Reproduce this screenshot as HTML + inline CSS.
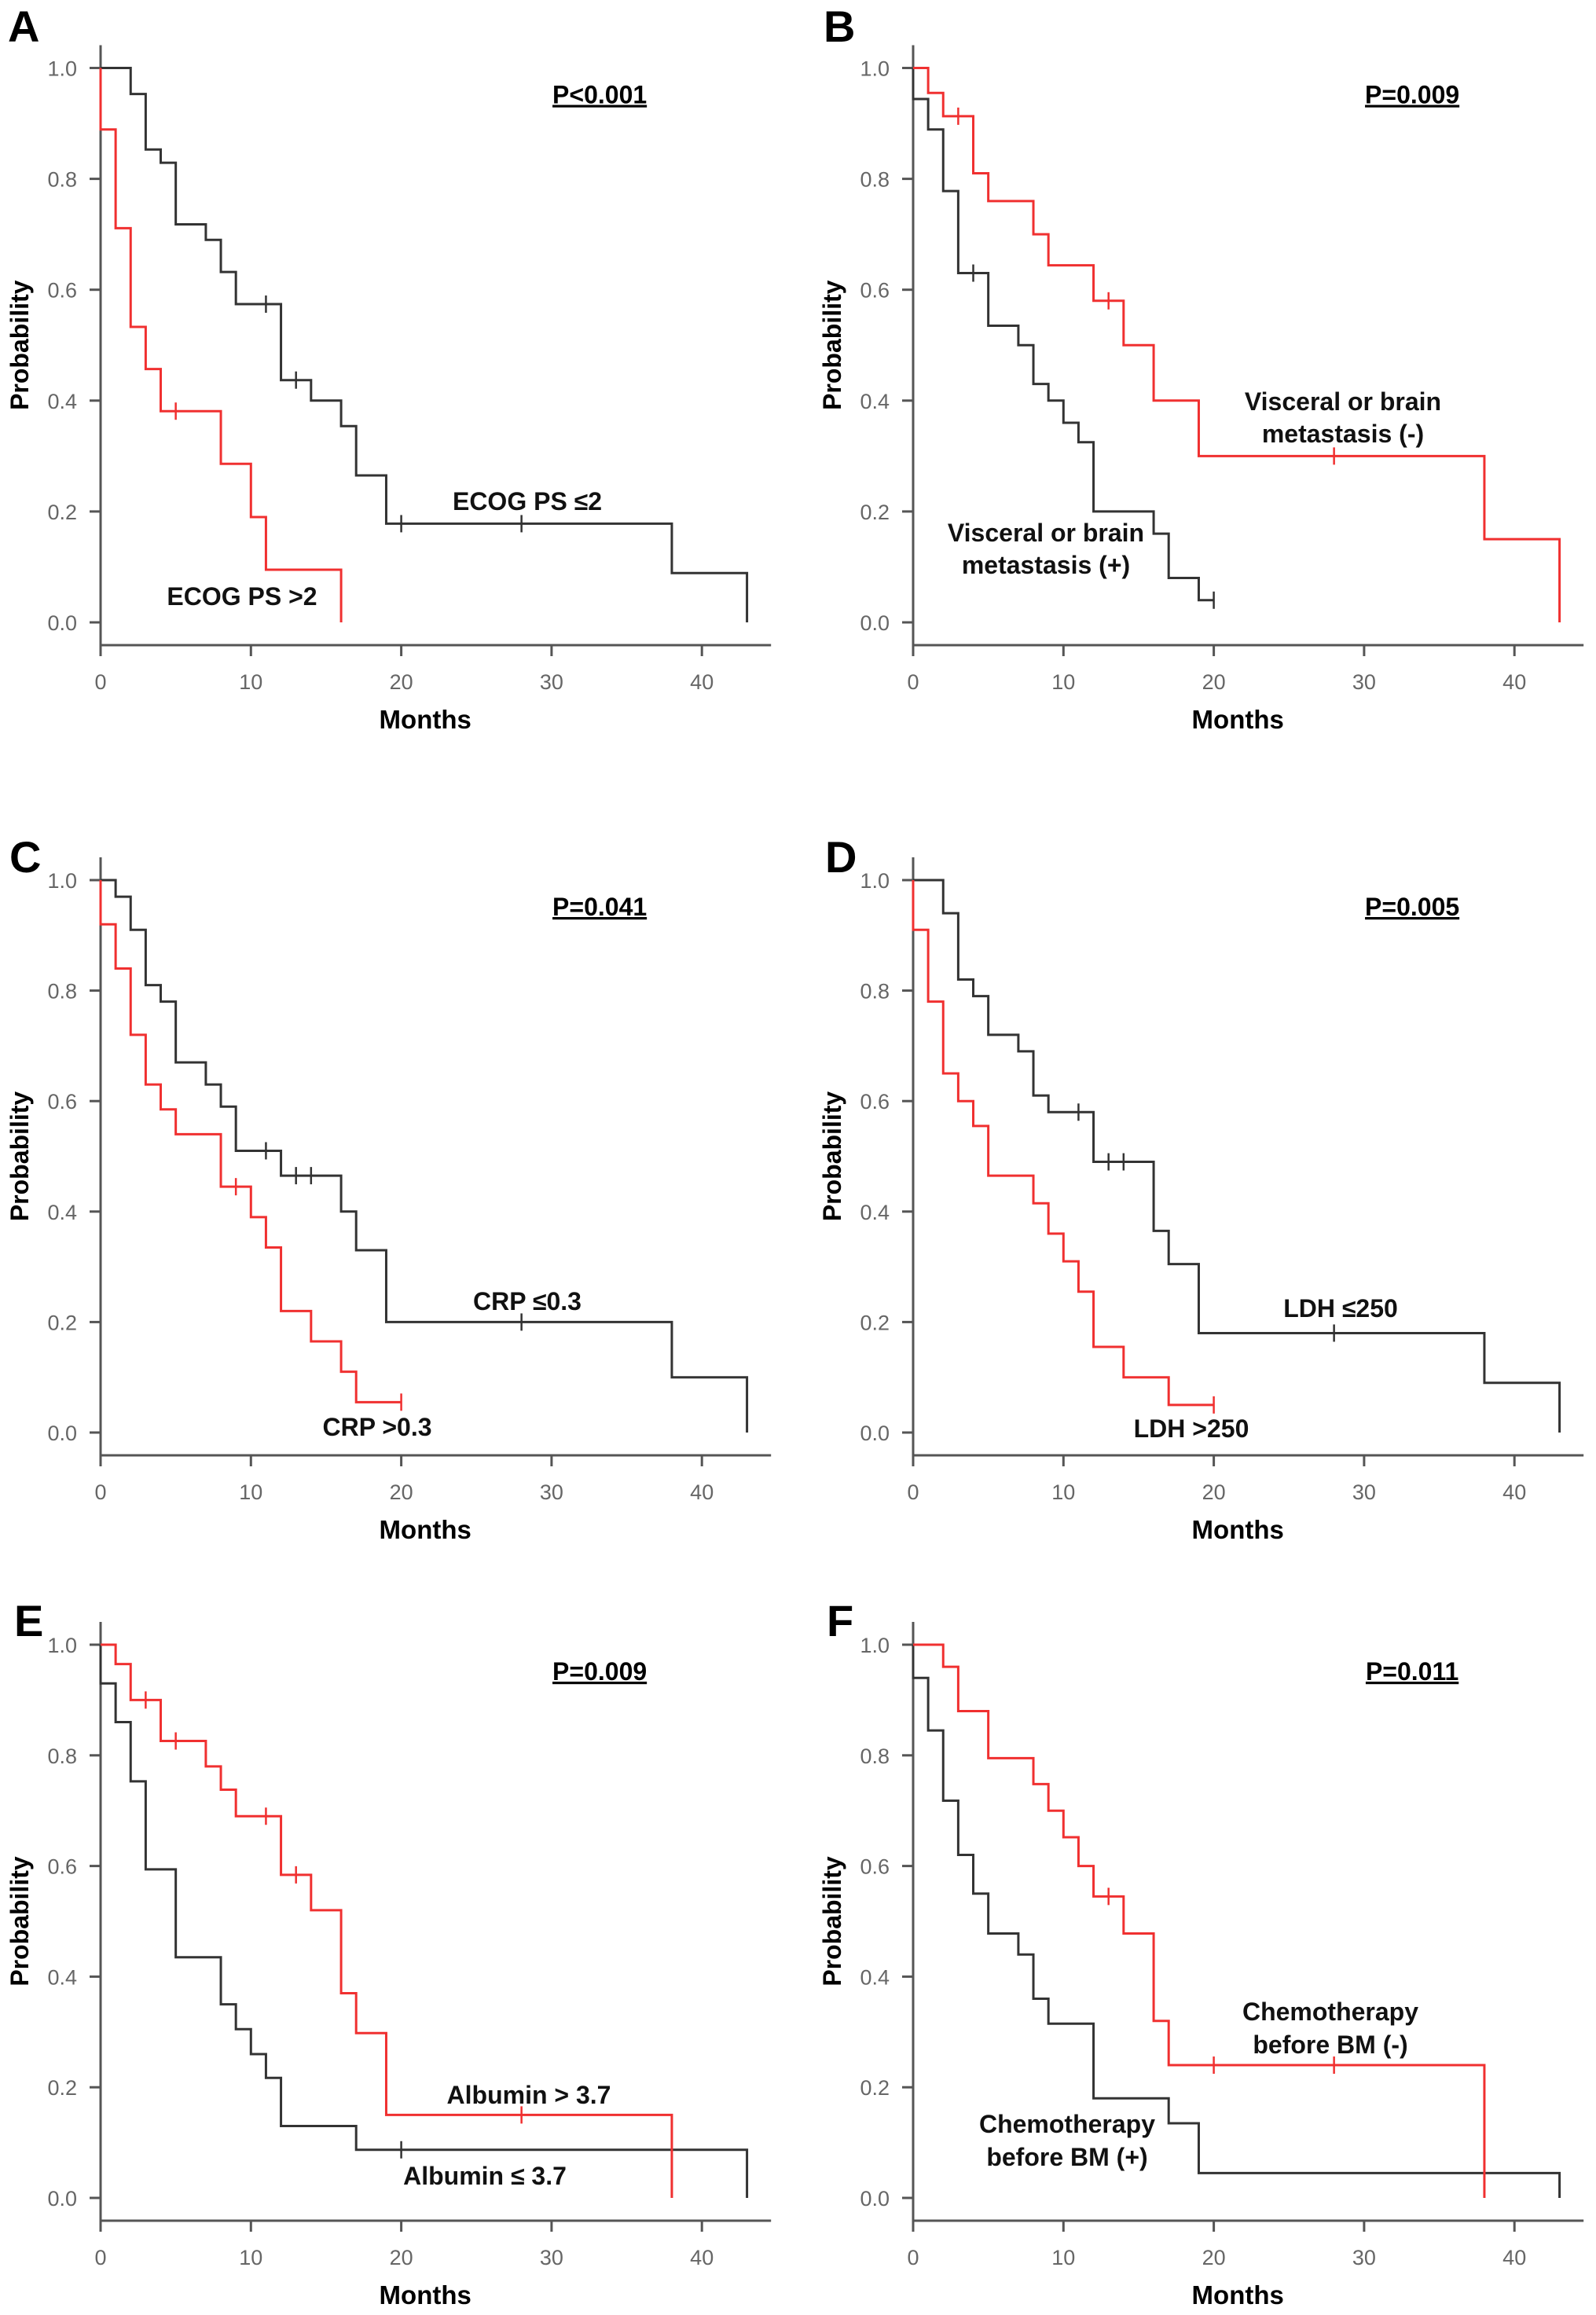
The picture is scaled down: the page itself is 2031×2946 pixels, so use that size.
<!DOCTYPE html>
<html><head><meta charset="utf-8"><style>
html,body{margin:0;padding:0;background:#fff}
svg{display:block}
text{font-family:"Liberation Sans",Arial,sans-serif}
</style></head><body>
<svg id="fig" width="2031" height="2946" viewBox="0 0 2031 2946" xmlns="http://www.w3.org/2000/svg"></svg>
<script>
// ---- data ----
const xTicks = [0,10,20,30,40];
const yTicks = [0,0.2,0.4,0.6,0.8,1.0];
const yTickLabels = ["0.0","0.2","0.4","0.6","0.8","1.0"];
const panelLetters = ["A","B","C","D","E","F"];
const pValues = ["P<0.001","P=0.009","P=0.041","P=0.005","P=0.009","P=0.011"];

// panel A
const aBlackT = [0,2,3,4,5,7,8,9,12,14,16,17,19,38,43];
const aBlackS = [1,0.953,0.853,0.829,0.718,0.69,0.632,0.574,0.437,0.4,0.354,0.265,0.178,0.089,0];
const aBlackC = [11,13,20,28];
const aRedT = [0,0,1,2,3,4,8,10,11,16];
const aRedS = [1,0.889,0.711,0.533,0.457,0.381,0.286,0.19,0.095,0];
const aRedC = [5];
// panel B
const bRedT = [0,1,2,4,5,8,9,12,14,16,19,38,43];
const bRedS = [1,0.955,0.913,0.81,0.76,0.70,0.644,0.58,0.5,0.4,0.3,0.15,0];
const bRedC = [3,13,28];
const bBlackT = [0,0,1,2,3,5,7,8,9,10,11,12,16,17,19,20];
const bBlackS = [1,0.944,0.889,0.778,0.63,0.535,0.5,0.43,0.4,0.36,0.325,0.2,0.16,0.08,0.04,0.04];
const bBlackC = [4,20];
// panel C
const cBlackT = [0,1,2,3,4,5,7,8,9,12,16,17,19,38,43];
const cBlackS = [1,0.97,0.91,0.81,0.78,0.67,0.63,0.59,0.51,0.465,0.4,0.33,0.2,0.1,0];
const cBlackC = [11,13,14,28];
const cRedT = [0,0,1,2,3,4,5,8,10,11,12,14,16,17,20];
const cRedS = [1,0.92,0.84,0.72,0.63,0.585,0.54,0.445,0.39,0.335,0.22,0.165,0.11,0.055,0.055];
const cRedC = [9,20];
// panel D
const dBlackT = [0,2,3,4,5,7,8,9,12,16,17,19,38,43];
const dBlackS = [1,0.94,0.82,0.79,0.72,0.69,0.61,0.58,0.49,0.365,0.305,0.18,0.09,0];
const dBlackC = [11,13,14,28];
const dRedT = [0,0,1,2,3,4,5,8,9,10,11,12,14,17,20];
const dRedS = [1,0.91,0.78,0.65,0.6,0.555,0.465,0.415,0.36,0.31,0.255,0.155,0.1,0.05,0.05];
const dRedC = [20];
// panel E
const eRedT = [0,1,2,4,7,8,9,12,14,16,17,19,38];
const eRedS = [1,0.965,0.9,0.826,0.78,0.738,0.69,0.584,0.52,0.37,0.298,0.15,0];
const eRedC = [3,5,11,13,28];
const eBlackT = [0,0,1,2,3,5,8,9,10,11,12,17,43];
const eBlackS = [1,0.93,0.86,0.753,0.594,0.435,0.35,0.305,0.26,0.217,0.13,0.087,0];
const eBlackC = [20];
// panel F
const fRedT = [0,2,3,5,8,9,10,11,12,14,16,17,38];
const fRedS = [1,0.96,0.88,0.795,0.748,0.70,0.652,0.6,0.545,0.478,0.32,0.24,0];
const fRedC = [13,20,28];
const fBlackT = [0,0,1,2,3,4,5,7,8,9,12,17,19,43];
const fBlackS = [1,0.94,0.845,0.718,0.62,0.55,0.478,0.44,0.36,0.315,0.18,0.135,0.045,0];
const fBlackC = [];

const NS = "http://www.w3.org/2000/svg";
const svg = document.getElementById('fig');
function el(tag, attrs, parent){const e=document.createElementNS(NS,tag);for(const k in attrs)e.setAttribute(k,attrs[k]);(parent||svg).appendChild(e);return e;}

const panels = [
 {x0:128,y1:86.5,y0:792,lx:10,ly:53,curves:[[aBlackT,aBlackS,aBlackC,'#333'],[aRedT,aRedS,aRedC,'#f03030']],
  labels:[["ECOG PS ≤2",671,649],["ECOG PS >2",308,770]]},
 {x0:1162,y1:86.5,y0:792,lx:1048,ly:53,curves:[[bBlackT,bBlackS,bBlackC,'#333'],[bRedT,bRedS,bRedC,'#f03030']],
  labels:[["Visceral or brain",1709,522],["metastasis (-)",1709,563],["Visceral or brain",1331,689],["metastasis (+)",1331,730]]},
 {x0:128,y1:1120,y0:1823,lx:12,ly:1110,curves:[[cBlackT,cBlackS,cBlackC,'#333'],[cRedT,cRedS,cRedC,'#f03030']],
  labels:[["CRP ≤0.3",671,1667],["CRP >0.3",480,1827]]},
 {x0:1162,y1:1120,y0:1823,lx:1050,ly:1110,curves:[[dBlackT,dBlackS,dBlackC,'#333'],[dRedT,dRedS,dRedC,'#f03030']],
  labels:[["LDH ≤250",1706,1676],["LDH >250",1516,1829]]},
 {x0:128,y1:2093,y0:2797,lx:18,ly:2082,curves:[[eBlackT,eBlackS,eBlackC,'#333'],[eRedT,eRedS,eRedC,'#f03030']],
  labels:[["Albumin > 3.7",673,2677],["Albumin ≤ 3.7",617,2780]]},
 {x0:1162,y1:2093,y0:2797,lx:1052,ly:2082,curves:[[fBlackT,fBlackS,fBlackC,'#333'],[fRedT,fRedS,fRedC,'#f03030']],
  labels:[["Chemotherapy",1693,2571],["before BM (-)",1693,2613],["Chemotherapy",1358,2714],["before BM (+)",1358,2756]]}
];
const PXM = 19.13;

panels.forEach((p,i)=>{
  const g = el('g',{});
  
  
  const X = t => p.x0 + t*PXM;
  const Y = s => p.y0 - s*(p.y0-p.y1);
  const axisY = p.y0 + 29;
  const L = el('text',{x:p.lx,y:p.ly,'font-size':56,'font-weight':'bold',fill:'#000'},g);
  L.textContent = panelLetters[i];
  
  
  const ya = el('line',{x1:p.x0,y1:p.y1-29,x2:p.x0,y2:axisY,stroke:'#555','stroke-width':3},g);
  
  
  const xa = el('line',{x1:p.x0,y1:axisY,x2:X(44.6),y2:axisY,stroke:'#555','stroke-width':3},g);
  
  
  yTicks.forEach((v,k)=>{
    el('line',{x1:p.x0-14,y1:Y(v),x2:p.x0,y2:Y(v),stroke:'#555','stroke-width':3},g);
    const t = el('text',{x:p.x0-30,y:Y(v)+10,'font-size':27,fill:'#666','text-anchor':'end'},g);
    t.textContent = yTickLabels[k];
    
    
  });
  xTicks.forEach(v=>{
    el('line',{x1:X(v),y1:axisY,x2:X(v),y2:axisY+14,stroke:'#555','stroke-width':3},g);
    const t = el('text',{x:X(v),y:axisY+56,'font-size':27,fill:'#666','text-anchor':'middle'},g);
    t.textContent = v;
    
    
  });
  const yt = el('text',{x:0,y:0,'font-size':32,'font-weight':'bold',fill:'#000','text-anchor':'middle',transform:`translate(${p.x0-92},${(p.y0+p.y1)/2}) rotate(-90)`},g);
  yt.textContent = 'Probability';
  
  
  const xt = el('text',{x:X(21.6),y:p.y0+135,'font-size':33,'font-weight':'bold',fill:'#000','text-anchor':'middle'},g);
  xt.textContent = 'Months';
  
  
  const pv = el('text',{x:X(33.2),y:p.y1+45,'font-size':32,'font-weight':'bold',fill:'#000','text-anchor':'middle','text-decoration':'underline'},g);
  pv.textContent = pValues[i];
  
  
  p.curves.forEach(([T,S,C,col],ci)=>{
    let d = `M${X(T[0])},${Y(S[0])}`;
    for(let k=1;k<T.length;k++){ d += ` H${X(T[k])} V${Y(S[k])}`; }
    const path = el('path',{d:d,fill:'none',stroke:col,'stroke-width':3},g);
    
    
    C.forEach(ct=>{
      let s = S[0];
      for(let k=0;k<T.length;k++){ if(T[k]<=ct) s=S[k]; }
      const m = el('line',{x1:X(ct),y1:Y(s)-11,x2:X(ct),y2:Y(s)+11,stroke:col,'stroke-width':2.5},g);
      
      
    });
  });
  p.labels.forEach(([txt,x,y])=>{
    const t = el('text',{x:x,y:y,'font-size':32,'font-weight':'bold',fill:'#111','text-anchor':'middle'},g);
    t.textContent = txt;
    
    
  });
});
</script>
</body></html>
